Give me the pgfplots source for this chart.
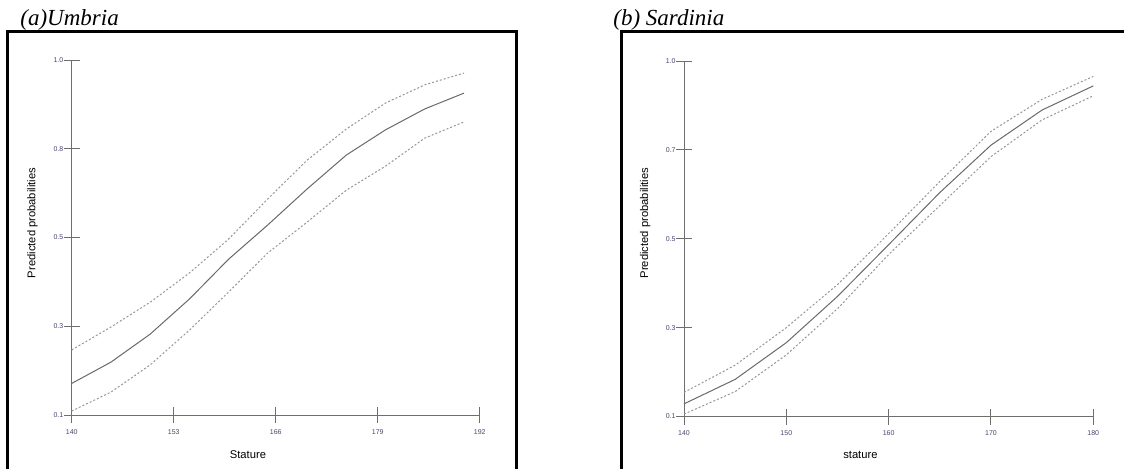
\documentclass[border=0pt]{standalone}
\usepackage{pgfplots}
\pgfplotsset{compat=1.18}
\usepackage{fontspec}
\setmainfont{Liberation Serif}
\newfontfamily\arialf{Liberation Sans}
\definecolor{axgray}{RGB}{110,110,110}
\definecolor{solidgray}{RGB}{105,105,105}
\definecolor{dotgray}{RGB}{150,150,150}
\definecolor{ticklab}{RGB}{70,70,110}
\newcommand{\labfont}{\arialf\fontsize{5.6}{6.5}\selectfont}
\pgfplotsset{
  panel/.style={
    scale only axis,
    anchor=south west,
    axis lines=left,
    axis line style={-, draw=axgray, line width=0.5pt},
    enlargelimits=false,
    clip=false,
    tick align=center,
    major tick length=8pt,
    tick style={draw=axgray, line width=0.5pt},
    ymin=0.1, ymax=1.0,
    ytick={0.1,0.325,0.55,0.775,1.0},
    /pgf/number format/assume math mode=true,
    ticklabel style={font=\arialf\fontsize{3.5}{4}\selectfont, text=ticklab, inner sep=0pt},
    yticklabel style={anchor=east, xshift=0pt},
    xticklabel style={anchor=center, yshift=-4.5pt},
  },
  solidc/.style={solidgray, line width=0.5pt, no marks},
  dotc/.style={dotgray, line width=0.5pt, no marks, dash pattern=on 1pt off 1pt},
}
\begin{document}
\begin{tikzpicture}
\useasboundingbox (0pt,0pt) rectangle (562pt,234pt);
\clip (0pt,0pt) rectangle (562pt,234pt);
% frames
\draw[black, line width=1.5pt] (3.75pt,-5pt) -- (3.75pt,218.35pt) -- (258pt,218.35pt) -- (258pt,-5pt);
\draw[black, line width=1.5pt] (310.65pt,-5pt) -- (310.65pt,218.35pt) -- (570pt,218.35pt);
% titles
\node[anchor=base west, inner sep=0pt] at (10pt,221.5pt) {\fontsize{11.5}{12}\selectfont\itshape (a)Umbria};
\node[anchor=base west, inner sep=0pt] at (306.5pt,221.5pt) {\fontsize{11.5}{12}\selectfont\itshape (b) Sardinia};

\begin{axis}[panel,
  at={(35.85pt,26.5pt)}, width=204pt, height=177.5pt,
  xmin=140, xmax=192,
  xtick={140,153,166,179,192},
  xticklabels={140,153,166,179,192},
  yticklabels={0.1,0.3,0.5,0.8,1.0},
  every axis x label/.style={at={(axis description cs:0.432,-0.113)}, anchor=center, font=\labfont, inner sep=0pt},
  every axis y label/.style={at={(axis description cs:-0.096,0.541)}, rotate=90, anchor=center, font=\labfont, inner sep=0pt},
  xlabel={Stature}, ylabel={Predicted probabilities}]
\addplot[dotc] coordinates {(140,0.265)(145,0.323)(150,0.386)(155,0.460)(160,0.546)(165,0.648)(170,0.746)(175,0.825)(180,0.891)(185,0.937)(190,0.967)};
\addplot[solidc] coordinates {(140,0.180)(145,0.234)(150,0.305)(155,0.394)(160,0.495)(165,0.582)(170,0.673)(175,0.759)(180,0.823)(185,0.876)(190,0.916)};
\addplot[dotc] coordinates {(140,0.110)(145,0.158)(150,0.227)(155,0.315)(160,0.412)(165,0.511)(170,0.589)(175,0.670)(180,0.731)(185,0.802)(190,0.843)};
\end{axis}

\begin{axis}[panel,
  at={(342pt,25.75pt)}, width=204.65pt, height=177.75pt,
  xmin=140, xmax=180,
  xtick={140,150,160,170,180},
  xticklabels={140,150,160,170,180},
  yticklabels={0.1,0.3,0.5,0.7,1.0},
  every axis x label/.style={at={(axis description cs:0.431,-0.109)}, anchor=center, font=\labfont, inner sep=0pt},
  every axis y label/.style={at={(axis description cs:-0.0946,0.544)}, rotate=90, anchor=center, font=\labfont, inner sep=0pt},
  xlabel={stature}, ylabel={Predicted probabilities}]
\addplot[dotc] coordinates {(140,0.161)(145,0.230)(150,0.325)(155,0.434)(160,0.563)(165,0.695)(170,0.822)(175,0.903)(180,0.961)};
\addplot[solidc] coordinates {(140,0.132)(145,0.194)(150,0.287)(155,0.404)(160,0.535)(165,0.667)(170,0.787)(175,0.876)(180,0.937)};
\addplot[dotc] coordinates {(140,0.106)(145,0.163)(150,0.256)(155,0.373)(160,0.510)(165,0.634)(170,0.758)(175,0.851)(180,0.912)};
\end{axis}
\end{tikzpicture}
\end{document}
